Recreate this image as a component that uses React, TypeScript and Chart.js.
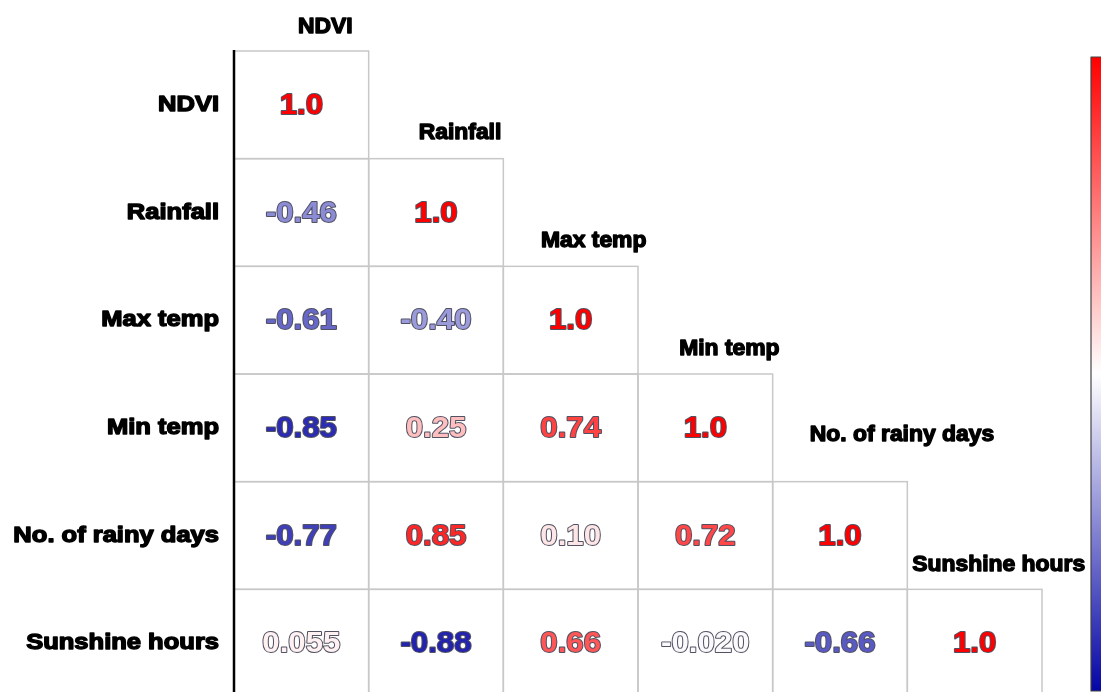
import React, { useEffect, useRef } from "react";
import { Chart, registerables } from "chart.js";
Chart.register(...registerables);

// ---- data ----
const variables = ["NDVI", "Rainfall", "Max temp", "Min temp", "No. of rainy days", "Sunshine hours"];
const rowNDVI = [1.0];
const rowRainfall = [-0.46, 1.0];
const rowMaxTemp = [-0.61, -0.40, 1.0];
const rowMinTemp = [-0.85, 0.25, 0.74, 1.0];
const rowRainyDays = [-0.77, 0.85, 0.10, 0.72, 1.0];
const rowSunshine = [0.055, -0.88, 0.66, -0.020, -0.66, 1.0];
const matrix = [rowNDVI, rowRainfall, rowMaxTemp, rowMinTemp, rowRainyDays, rowSunshine];

// ---- layout (not data) ----
const colLabelShift = [[24, -24], [24, -26], [23, -25], [24, -25], [62, -47], [24, -24]];
const VISIBLE_ROWS = 6 * 641 / 646;

function cmap(v: number): string {
  if (v >= 0) {
    const k = Math.round(255 * (1 - v));
    return `rgb(255,${k},${k})`;
  }
  const t = -v;
  const rg = Math.round(255 + (5 - 255) * t);
  const b = Math.round(255 + (165 - 255) * t);
  return `rgb(${rg},${rg},${b})`;
}

const points: { x: number; y: number; v: number }[] = [];
matrix.forEach((row, r) => row.forEach((v, c) => points.push({ x: c + 0.5, y: r + 0.5, v })));

const corrPlugin = {
  id: "corrPlugin",
  afterDatasetsDraw(chart: any) {
    const { ctx, scales } = chart;
    const xs = scales.x, ys = scales.y;
    const n = variables.length;
    ctx.save();
    // cell borders
    ctx.strokeStyle = "#c8c8c8";
    ctx.lineWidth = 1.5;
    for (let r = 0; r < n; r++) {
      for (let c = 0; c <= r; c++) {
        const l = xs.getPixelForValue(c), rr = xs.getPixelForValue(c + 1);
        const t = ys.getPixelForValue(r), b = ys.getPixelForValue(r + 1);
        ctx.strokeRect(l, t, rr - l, b - t);
      }
    }
    // black left line
    ctx.strokeStyle = "#000";
    ctx.lineWidth = 2.5;
    ctx.beginPath();
    const x0 = xs.getPixelForValue(0);
    ctx.moveTo(x0, ys.getPixelForValue(0) - 1);
    ctx.lineTo(x0, chart.height + 5);
    ctx.stroke();

    // row labels
    ctx.fillStyle = "#000";
    ctx.strokeStyle = "#000";
    ctx.lineWidth = 1.4;
    ctx.lineJoin = "round";
    ctx.font = "bold 22px 'Liberation Sans', Arial, sans-serif";
    ctx.textAlign = "right";
    ctx.textBaseline = "middle";
    for (let r = 0; r < n; r++) {
      const yc = ys.getPixelForValue(r + 0.5);
      ctx.save();
      ctx.translate(x0 - 15, yc);
      ctx.scale(1.16, 1);
      ctx.strokeText(variables[r], 0, 0);
      ctx.fillText(variables[r], 0, 0);
      ctx.restore();
    }
    // column labels
    ctx.textAlign = "center";
    for (let c = 0; c < n; c++) {
      const xc = xs.getPixelForValue(c + 0.5) + colLabelShift[c][0];
      const yc = ys.getPixelForValue(c) + colLabelShift[c][1];
      ctx.save();
      ctx.translate(xc, yc);
      ctx.scale(1.04, 1);
      ctx.strokeText(variables[c], 0, 0);
      ctx.fillText(variables[c], 0, 0);
      ctx.restore();
    }

    // values
    const meta = chart.getDatasetMeta(0);
    ctx.font = "bold 30px 'Liberation Sans', Arial, sans-serif";
    ctx.textAlign = "center";
    ctx.textBaseline = "middle";
    meta.data.forEach((el: any, i: number) => {
      const v = points[i].v;
      const txt = v.toPrecision(2);
      ctx.save();
      ctx.translate(el.x, el.y + 1);
      ctx.scale(1.04, 1);
      ctx.strokeStyle = "rgba(50,50,70,0.85)";
      ctx.lineWidth = 2;
      ctx.strokeText(txt, 0, 0);
      ctx.fillStyle = cmap(v);
      ctx.fillText(txt, 0, 0);
      ctx.restore();
    });

    // colorbar
    const cbTop = 57, cbBot = 691, cbL = 1091, cbR = 1115;
    const g = ctx.createLinearGradient(0, cbTop, 0, cbBot);
    const steps = 20;
    for (let i = 0; i <= steps; i++) {
      const v = 1 - (2 * i) / steps;
      g.addColorStop(i / steps, cmap(v));
    }
    ctx.fillStyle = g;
    ctx.fillRect(cbL, cbTop, cbR - cbL, cbBot - cbTop);
    ctx.strokeStyle = "#444";
    ctx.lineWidth = 1.2;
    ctx.strokeRect(cbL, cbTop, cbR - cbL, cbBot - cbTop);
    ctx.restore();
  },
};

export default function App() {
  const ref = useRef<HTMLCanvasElement | null>(null);
  useEffect(() => {
    if (!ref.current) return;
    const chart = new Chart(ref.current, {
      type: "scatter",
      data: {
        datasets: [
          {
            data: points.map((p) => ({ x: p.x, y: p.y })),
            pointRadius: 0,
            pointHoverRadius: 0,
          },
        ],
      },
      options: {
        animation: false,
        responsive: true,
        maintainAspectRatio: false,
        layout: { padding: { left: 234, right: 59, top: 51, bottom: 0 } },
        plugins: { legend: { display: false }, tooltip: { enabled: false } },
        scales: {
          x: { type: "linear", min: 0, max: 6, display: false },
          y: { type: "linear", min: 0, max: VISIBLE_ROWS, reverse: true, display: false },
        },
      },
      plugins: [corrPlugin],
    });
    return () => chart.destroy();
  }, []);
  return (
    <div style={{ position: "absolute", left: 0, top: 0, width: 1101, height: 692, background: "#fff" }}>
      <canvas ref={ref} />
    </div>
  );
}
